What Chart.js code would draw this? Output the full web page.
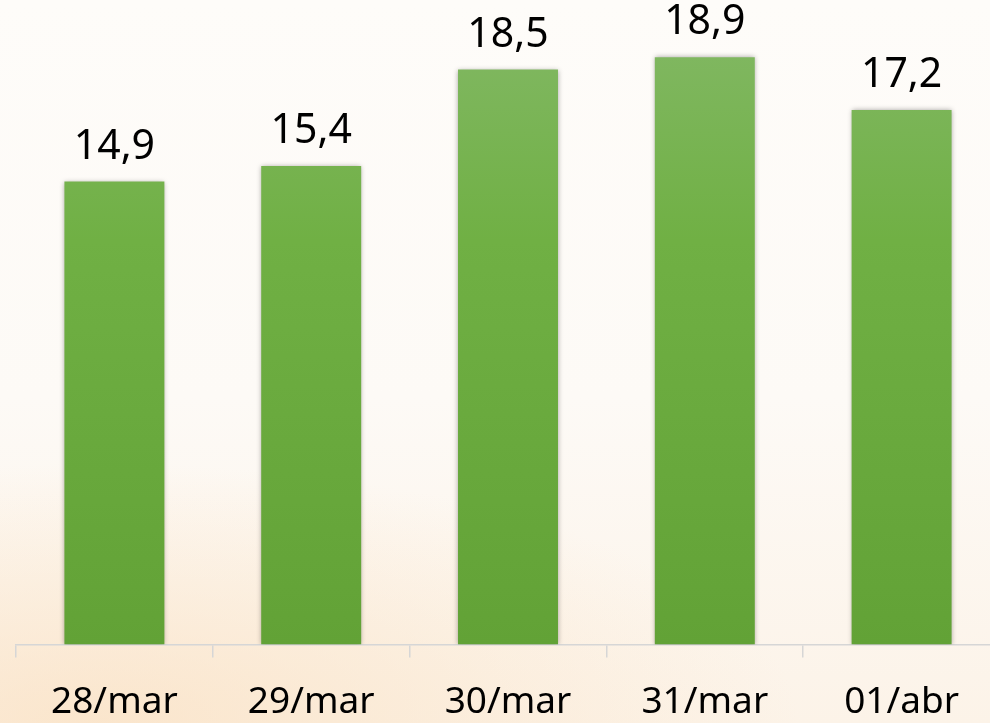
<!DOCTYPE html>
<html>
<head>
<meta charset="utf-8">
<script src="https://cdn.jsdelivr.net/npm/chart.js@4/dist/chart.umd.min.js"></script>
<style>
  html, body { margin: 0; padding: 0; overflow: hidden; width: 990px; height: 723px; }
  body {
    background:
      radial-gradient(ellipse 700px 260px at 10% 100%, rgba(250,225,195,0.75), rgba(250,225,195,0) 100%),
      linear-gradient(to bottom, #fefcf9 0%, #fdfaf6 55%, #fcf3e8 100%);
  }
  #outer { position: relative; width: 990px; height: 723px; overflow: hidden; }
  #wrap { position: absolute; left: 0; top: 0; width: 1000px; height: 748px; }
</style>
</head>
<body>
<div id="outer"><div id="wrap"><canvas id="c"></canvas></div></div>
<script>
const categories = ["28/mar", "29/mar", "30/mar", "31/mar", "01/abr"];
const values = [14.9, 15.4, 18.5, 18.9, 17.2];
const yMin = 0;
const yMax = 20;

const ctx = document.getElementById('c').getContext('2d');

const shadowPlugin = {
  id: 'barShadow',
  beforeDatasetsDraw(chart) {
    const c = chart.ctx;
    c.save();
    c.shadowColor = 'rgba(0,0,0,0.35)';
    c.shadowBlur = 5;
    c.shadowOffsetX = 0;
    c.shadowOffsetY = 0;
  },
  afterDatasetsDraw(chart) {
    chart.ctx.restore();
  }
};

const labelPlugin = {
  id: 'valueLabels',
  afterDraw(chart) {
    const c = chart.ctx;
    const meta = chart.getDatasetMeta(0);
    c.save();
    c.fillStyle = '#000';
    c.font = '41px "Noto Sans"';
    c.textAlign = 'center';
    c.textBaseline = 'alphabetic';
    meta.data.forEach((bar, i) => {
      const txt = values[i].toFixed(1).replace('.', ',');
      c.fillText(txt, bar.x, bar.y - 23);
    });
    c.restore();
  }
};

new Chart(ctx, {
  type: 'bar',
  data: {
    labels: categories,
    datasets: [{
      data: values,
      backgroundColor: (context) => {
        const chart = context.chart;
        const area = chart.chartArea;
        if (!area) return '#6aa93f';
        const g = chart.ctx.createLinearGradient(0, area.top, 0, area.bottom);
        g.addColorStop(0, '#82b864');
        g.addColorStop(0.35, '#70b044');
        g.addColorStop(1, '#62a236');
        return g;
      },
      borderWidth: 0,
      categoryPercentage: 1,
      barPercentage: 0.508
    }]
  },
  options: {
    responsive: true,
    maintainAspectRatio: false,
    animation: false,
    layout: { padding: { left: 16, right: 0, top: 23, bottom: 0 } },
    plugins: { legend: { display: false }, tooltip: { enabled: false } },
    scales: {
      x: {
        grid: {
          display: true,
          drawOnChartArea: false,
          drawTicks: true,
          tickLength: 13,
          color: '#d6d6d6',
          lineWidth: 1.5,
          offset: true
        },
        border: { display: true, color: '#d6d6d6', width: 1.5 },
        ticks: {
          color: '#000',
          font: { family: 'Noto Sans', size: 37 },
          padding: 23,
          maxRotation: 0
        }
      },
      y: {
        display: false,
        min: yMin,
        max: yMax
      }
    }
  },
  plugins: [shadowPlugin, labelPlugin]
});
</script>
</body>
</html>
